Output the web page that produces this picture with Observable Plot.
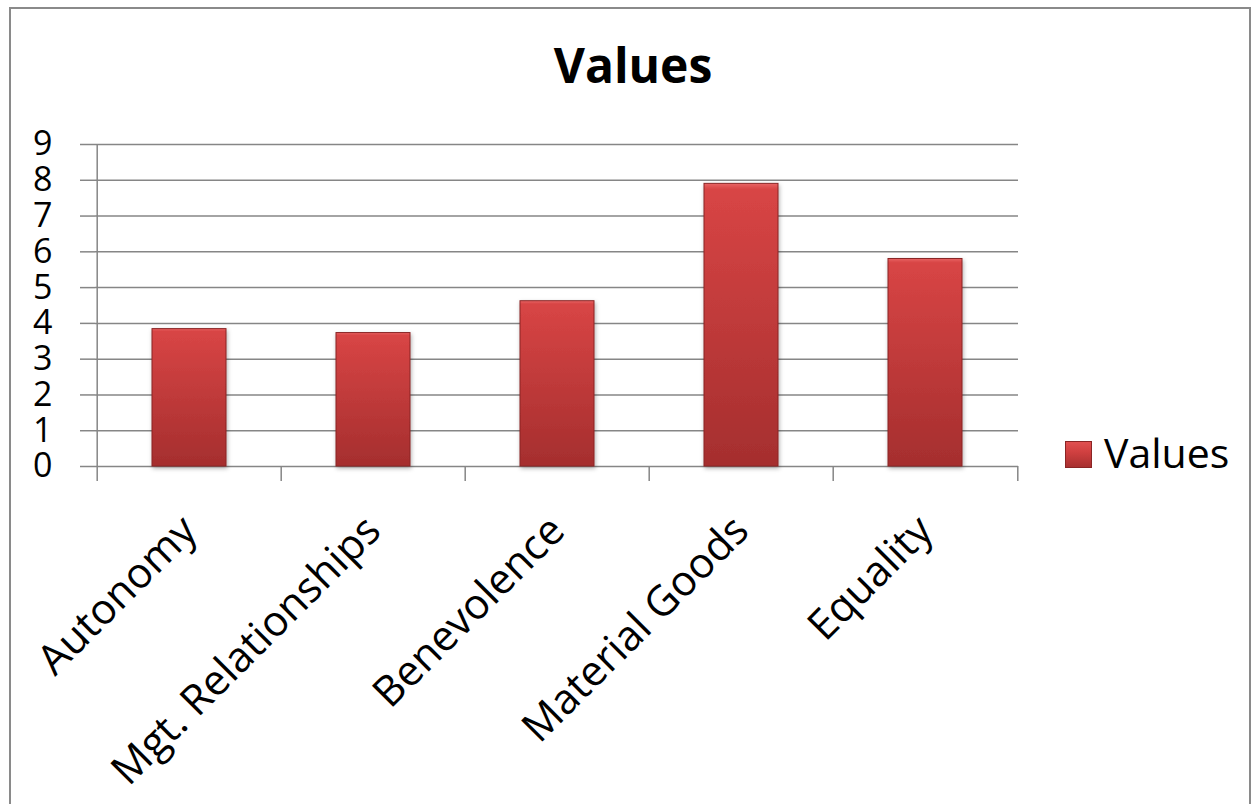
<!DOCTYPE html>
<html>
<head>
<meta charset="utf-8">
<script src="https://cdn.jsdelivr.net/npm/d3@7"></script>
<script src="https://cdn.jsdelivr.net/npm/@observablehq/plot@0.6"></script>
<style>
  html, body { margin: 0; padding: 0; background: #fff; }
  #page { position: relative; width: 1258px; height: 804px; overflow: hidden; font-family: "Open Sans", sans-serif; }
  #frame { position: absolute; left: 9px; top: 7px; width: 1242px; height: 820px; border: 2px solid #8a8a8a; box-sizing: border-box; }
  #title { position: absolute; left: 0; top: 41px; width: 1266px; text-align: center; font-size: 48px; font-weight: bold; color: #000; line-height: 1; }
  #chart { position: absolute; left: 0; top: 120px; }
  #legend { position: absolute; left: 1065px; top: 428px; display: flex; align-items: center; font-size: 41px; line-height: 1.2; color: #000; }
  #legend .sw { width: 27px; height: 27px; margin-right: 12px; margin-top: 4px; background: linear-gradient(#e05050, #d04040 40%, #a83030); border: 1px solid #8a2525; box-sizing: border-box; }
</style>
</head>
<body>
<div id="page">
  <div id="frame"></div>
  <div id="title">Values</div>
  <div id="chart"></div>
  <div id="legend"><div class="sw"></div><span>Values</span></div>
</div>
<script>
const categories = ["Autonomy", "Mgt. Relationships", "Benevolence", "Material Goods", "Equality"];
const values = [3.84, 3.73, 4.62, 7.9, 5.8];
const yTicks = [0, 1, 2, 3, 4, 5, 6, 7, 8, 9];
const seriesName = "Values";

const data = categories.map((c, i) => ({category: c, value: values[i]}));

const W = 1040, H = 684;
const mL = 95, mR = 22, mT = 24, mB = 338;
const step = (W - mL - mR) / categories.length;

const plot = Plot.plot({
  width: W,
  height: H,
  marginLeft: mL,
  marginRight: mR,
  marginTop: mT,
  marginBottom: mB,
  style: {fontFamily: "'Open Sans', sans-serif", color: "#000", background: "transparent", overflow: "visible"},
  x: {domain: categories, paddingInner: 0.6, paddingOuter: 0.3, label: null},
  y: {domain: [0, 9], label: null},
  marks: [
    Plot.gridY(yTicks, {stroke: "#868686", strokeOpacity: 1, strokeWidth: 1.5}),
    Plot.axisY(yTicks, {tickSize: 15, tickPadding: 28, fontSize: 34, stroke: "#868686", strokeWidth: 1.5, label: null}),
    Plot.ruleX([0], {x: () => categories[0], dx: -step / 2, y1: 0, y2: 9, stroke: "#868686", strokeWidth: 1.5}),
    Plot.axisX(categories, {tickSize: 15, text: null, dx: -step / 2, stroke: "#868686", strokeWidth: 1.5, label: null}),
    Plot.axisX([categories[categories.length - 1]], {tickSize: 15, text: null, dx: step / 2, stroke: "#868686", strokeWidth: 1.5, label: null}),
    Plot.axisX(categories, {tickSize: 0, tickPadding: 57, tickRotate: -45, fontSize: 42, label: null}),
    Plot.barY(data, {x: "category", y: "value", fill: "url(#barGrad)", stroke: "#8a2525", strokeWidth: 1})
  ]
});

const ns = "http://www.w3.org/2000/svg";
const defs = document.createElementNS(ns, "defs");
defs.innerHTML = `
  <linearGradient id="barGrad" x1="0" y1="0" x2="0" y2="1">
    <stop offset="0" stop-color="#e86464"/>
    <stop offset="0.02" stop-color="#d84545"/>
    <stop offset="1" stop-color="#a52e2e"/>
  </linearGradient>
  <filter id="shadow" x="-20%" y="-10%" width="140%" height="130%">
    <feDropShadow dx="1" dy="2" stdDeviation="2" flood-color="#000" flood-opacity="0.3"/>
  </filter>`;
plot.insertBefore(defs, plot.firstChild);
plot.querySelectorAll("g[fill='url(#barGrad)']").forEach(g => g.setAttribute("filter", "url(#shadow)"));
document.getElementById("chart").appendChild(plot);
</script>
</body>
</html>
